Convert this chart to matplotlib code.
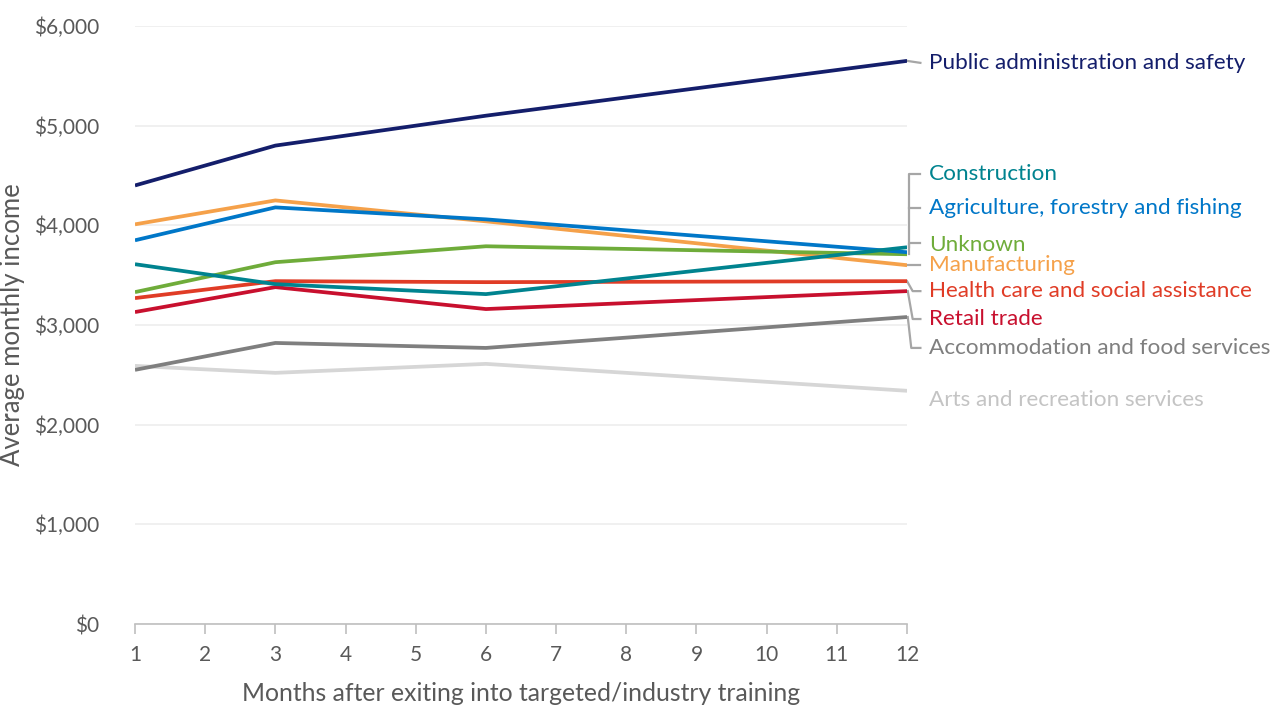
import matplotlib.pyplot as plt
from matplotlib.ticker import FuncFormatter

plt.rcParams['font.family'] = ['Lato', 'DejaVu Sans']

months = [1, 3, 6, 12]

industries = ["Public administration and safety", "Construction",
              "Agriculture, forestry and fishing", "Unknown", "Manufacturing",
              "Health care and social assistance", "Retail trade",
              "Accommodation and food services", "Arts and recreation services"]

public_admin = [4400, 4800, 5100, 5650]
construction = [3610, 3410, 3310, 3780]
agriculture = [3850, 4180, 4060, 3730]
unknown = [3330, 3630, 3790, 3710]
manufacturing = [4010, 4250, 4040, 3600]
health = [3270, 3440, 3430, 3440]
retail = [3130, 3380, 3160, 3340]
accommodation = [2550, 2820, 2770, 3080]
arts = [2590, 2520, 2610, 2340]

series = [public_admin, construction, agriculture, unknown, manufacturing,
          health, retail, accommodation, arts]
colors = ["#141e6b", "#00838f", "#0077c8", "#6fac3a", "#f5a14a",
          "#e03c26", "#c8102e", "#7f7f7f", "#d6d6d6"]
label_colors = colors[:-1] + ["#c4c4c4"]
# where the labels sit (dollar units on the y scale)
label_y = [5630, 4510, 4170, 3800, 3600, 3340, 3060, 2770, 2250]

fig = plt.figure(figsize=(12.77, 7.06), dpi=100)
ax = fig.add_axes([0.1057, 0.1161, 0.6046, 0.8471])

# draw in reverse so the top lines sit on top
for vals, c in reversed(list(zip(series, colors))):
    ax.plot(months, vals, color=c, lw=2.7, solid_capstyle='butt', zorder=3)

ax.set_xlim(1, 12)
ax.set_ylim(0, 6000)
ax.set_xticks(range(1, 13))
ax.set_yticks(range(0, 6001, 1000))
ax.yaxis.set_major_formatter(FuncFormatter(lambda v, p: "${:,.0f}".format(v)))
ax.grid(axis='y', color='#ededed', lw=1.2, zorder=0)
for s in ['top', 'right', 'left']:
    ax.spines[s].set_visible(False)
ax.spines['bottom'].set_color('#bfbfbf')
ax.spines['bottom'].set_linewidth(1.2)
ax.tick_params(axis='y', length=0, pad=26, labelsize=15, labelcolor='#595959')
ax.tick_params(axis='x', length=7, color='#bfbfbf', width=1.2, pad=8,
               labelsize=15, labelcolor='#595959')
ax.set_xlabel("Months after exiting into targeted/industry training",
              fontsize=17.8, color='#595959', labelpad=12)
ax.set_ylabel("Average monthly income", fontsize=18.5, color='#595959', labelpad=6)

# leader lines and labels
lc = '#a6a6a6'
xv, xt, xl = 12.03, 12.19, 12.31
ends = [s[-1] for s in series]
leaders = [
    [(12, ends[0]), (xt, label_y[0])],
    [(xv, ends[1]), (xv, label_y[1]), (xt, label_y[1])],
    [(xv, label_y[2]), (xt, label_y[2])],
    [(xv, ends[3]), (xv, label_y[3] + 20), (xt, label_y[3] + 20)],
    [(12, ends[4]), (xt, label_y[4])],
    [(12, ends[5]), (12.08, label_y[5]), (xt, label_y[5])],
    [(12.01, ends[6]), (12.08, label_y[6]), (xt, label_y[6])],
    [(12.01, ends[7]), (12.06, label_y[7]), (xt, label_y[7])],
]
for pts in leaders:
    xs, ys = zip(*pts)
    ax.plot(xs, ys, color=lc, lw=1.6, clip_on=False, zorder=2)

for name, y, c in zip(industries, label_y, label_colors):
    ax.text(xl, y, name, color=c, fontsize=16.2, va='center', ha='left',
            clip_on=False)

fig.savefig("out.png", dpi=100)
